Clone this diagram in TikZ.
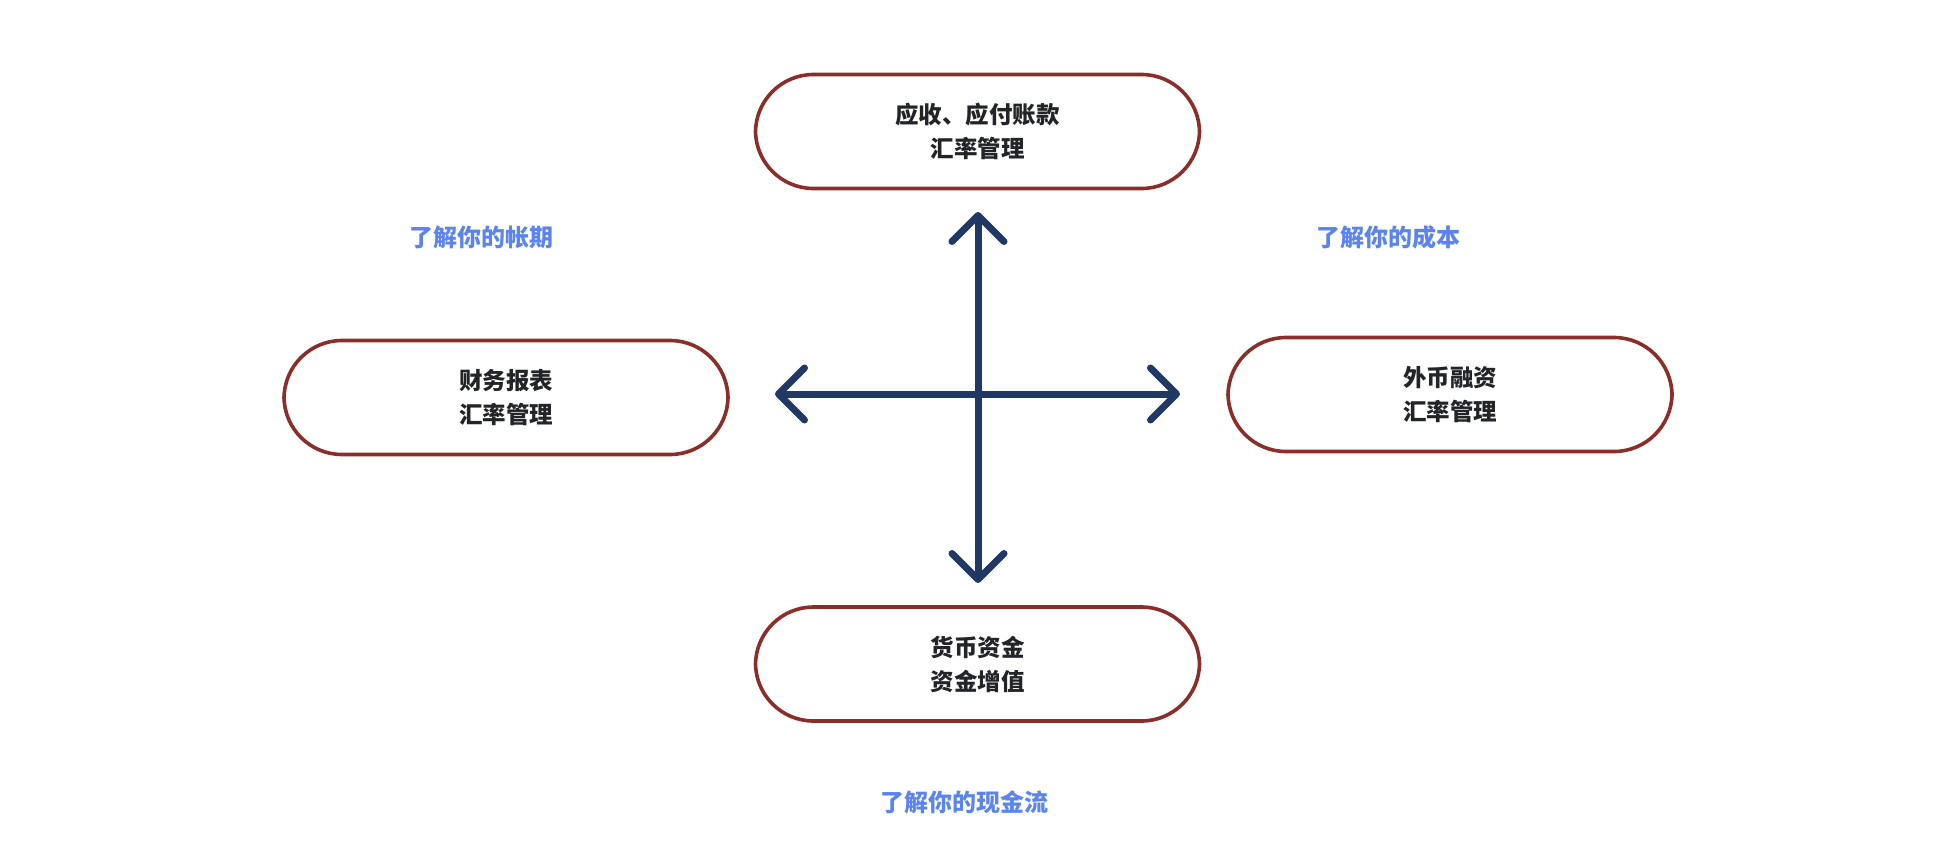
\documentclass[tikz,border=0pt]{standalone}
\usepackage{fontspec}
\setmainfont{Noto Sans CJK SC}
\usetikzlibrary{arrows.meta}
\definecolor{boxred}{HTML}{8B2E2A}
\definecolor{arrblue}{HTML}{1F3864}
\definecolor{lblblue}{HTML}{5B84EE}
\definecolor{txtdark}{HTML}{222428}
\tikzset{
  pill/.style={draw=boxred, line width=3.6pt, fill=white, rectangle, rounded corners=58pt,
    minimum width=444pt, minimum height=114pt, align=center, text=txtdark,
    font=\fontsize{23.5pt}{34pt}\selectfont\bfseries},
  lbl/.style={text=lblblue, font=\fontsize{24pt}{28pt}\selectfont\bfseries},
  arr/.style={draw=arrblue, line width=7pt, line cap=round,
    {Straight Barb[length=26pt,width=52pt,round]}-{Straight Barb[length=26pt,width=52pt,round]}}
}
\begin{document}
\begin{tikzpicture}[x=1pt,y=-1pt]
\useasboundingbox[fill=white] (0,0) rectangle (1950,864);
\node[pill] (top) at (977.5,131.5) {应收、应付账款\\汇率管理};
\node[pill] (left) at (506,397.5) {财务报表\\汇率管理};
\node[pill] (right) at (1450,394.5) {外币融资\\汇率管理};
\node[pill] (bot) at (977.5,664) {货币资金\\资金增值};
\coordinate (vt) at (978,212);
\coordinate (vb) at (978,583);
\coordinate (hl) at (775,394);
\coordinate (hr) at (1180,394);
\draw[arr] (vt) -- (vb);
\draw[arr] (hl) -- (hr);
\node[lbl] (l1) at (481,237) {了解你的帐期};
\node[lbl] (l2) at (1388,237) {了解你的成本};
\node[lbl] (l3) at (964,802) {了解你的现金流};
\end{tikzpicture}
\end{document}
